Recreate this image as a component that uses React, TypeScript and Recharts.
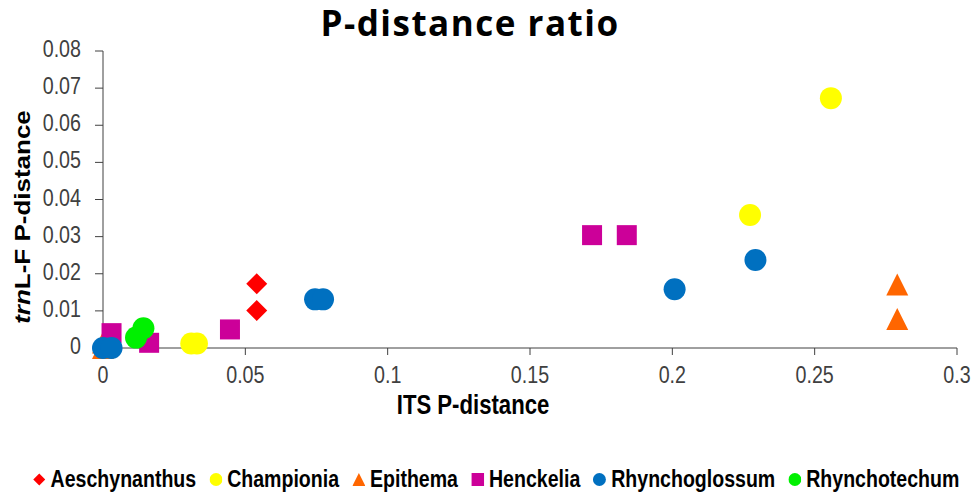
import React from "react";
import { ScatterChart, Scatter, XAxis, YAxis, Label } from "recharts";

const seriesNames = ["Aeschynanthus", "Championia", "Epithema", "Henckelia", "Rhynchoglossum", "Rhynchotechum"];
const seriesColors = ["#FF0000", "#FFFF00", "#FF6600", "#CC0099", "#0070C0", "#00F000"];
const seriesShapes = ["diamond", "circle", "triangle", "square", "circle", "circle"];

const aeschynanthus = [
  { x: 0.054, y: 0.0173 },
  { x: 0.054, y: 0.0101 },
];
const championia = [
  { x: 0.2557, y: 0.0673 },
  { x: 0.2273, y: 0.0358 },
  { x: 0.031, y: 0.0012 },
  { x: 0.033, y: 0.0012 },
];
const epithema = [
  { x: 0.279, y: 0.0171 },
  { x: 0.279, y: 0.0078 },
  { x: 0, y: 0.0015 },
  { x: 0, y: 0 },
];
const henckelia = [
  { x: 0.1718, y: 0.0304 },
  { x: 0.184, y: 0.0304 },
  { x: 0.0446, y: 0.005 },
  { x: 0.0162, y: 0.0014 },
  { x: 0.003, y: 0.004 },
];
const rhynchoglossum = [
  { x: 0.2292, y: 0.0237 },
  { x: 0.2008, y: 0.0158 },
  { x: 0.0745, y: 0.0131 },
  { x: 0.0773, y: 0.0131 },
  { x: 0, y: 0 },
  { x: 0.003, y: 0 },
];
const rhynchotechum = [
  { x: 0.0142, y: 0.0053 },
  { x: 0.0116, y: 0.0028 },
];
const seriesData = [aeschynanthus, championia, epithema, henckelia, rhynchoglossum, rhynchotechum];

const xTicks = [0, 0.05, 0.1, 0.15, 0.2, 0.25, 0.3];
const yTicks = [0, 0.01, 0.02, 0.03, 0.04, 0.05, 0.06, 0.07, 0.08];

const AXIS = "#404040";
const FONT = "'Liberation Sans', Arial, sans-serif";
const SQUEEZE = 0.82;
const LEG_SQ = 0.85;

function drawMarker(kind: string, color: string, cx: number, cy: number, s: number) {
  const h = s / 2;
  if (kind === "circle") return <circle cx={cx} cy={cy} r={h} fill={color} />;
  if (kind === "square") return <rect x={cx - h} y={cy - h} width={s} height={s} fill={color} />;
  if (kind === "diamond")
    return <polygon points={`${cx},${cy - h} ${cx + h},${cy} ${cx},${cy + h} ${cx - h},${cy}`} fill={color} />;
  return <polygon points={`${cx},${cy - h} ${cx + h},${cy + h} ${cx - h},${cy + h}`} fill={color} />;
}

const markerSize: Record<string, number> = { circle: 22, square: 20, diamond: 21, triangle: 22 };

function makeShape(kind: string, color: string) {
  return (props: any) => {
    const { cx, cy } = props;
    if (cx == null || cy == null) return <g />;
    return drawMarker(kind, color, cx, cy, markerSize[kind]);
  };
}

const XTick = (props: any) => {
  const { x, y, payload } = props;
  return (
    <text
      transform={`translate(${x},${y}) scale(${SQUEEZE},1)`}
      x={0}
      y={0}
      dy="0.71em"
      textAnchor="middle"
      fill={AXIS}
      fontSize={24}
      fontFamily={FONT}
    >
      {String(payload.value)}
    </text>
  );
};

const YTick = (props: any) => {
  const { x, y, payload } = props;
  return (
    <text
      transform={`translate(${x},${y + 6}) scale(${SQUEEZE},1)`}
      x={0}
      y={0}
      textAnchor="end"
      fill={AXIS}
      fontSize={24}
      fontFamily={FONT}
    >
      {String(payload.value)}
    </text>
  );
};

const YTitle = () => (
  <text
    transform="translate(22,217) scale(0.85,1) rotate(-90)"
    x={0}
    y={0}
    textAnchor="middle"
    dominantBaseline="central"
    fontSize={26}
    fontWeight="bold"
    fill="#000"
    fontFamily={FONT}
  >
    <tspan fontStyle="italic">trn</tspan>
    <tspan>L-F P-distance</tspan>
  </text>
);

export default function App() {
  return (
    <div style={{ position: "absolute", left: 0, top: 0, width: 976, height: 493, background: "#fff", overflow: "hidden" }}>
      <div
        style={{
          position: "absolute",
          left: 0,
          top: 0,
          width: 940,
          textAlign: "center",
          fontFamily: "'Open Sans', Lato, sans-serif",
          fontWeight: 700,
          fontSize: 35,
          letterSpacing: 1.5,
          lineHeight: "46px",
          color: "#000",
        }}
      >
        P-distance ratio
      </div>
      <ScatterChart width={976} height={493} margin={{ top: 51, right: 19, left: 23, bottom: 105 }}>
        <XAxis
          type="number"
          dataKey="x"
          domain={[0, 0.3]}
          ticks={xTicks}
          interval={0}
          tickSize={7}
          tickMargin={11}
          height={40}
          stroke={AXIS}
          tickLine={{ stroke: AXIS }}
          axisLine={{ stroke: AXIS }}
          tick={<XTick />}
        />
        <YAxis
          type="number"
          dataKey="y"
          domain={[0, 0.08]}
          ticks={yTicks}
          interval={0}
          tickSize={8}
          tickMargin={14}
          width={80}
          stroke={AXIS}
          tickLine={{ stroke: AXIS }}
          axisLine={{ stroke: AXIS }}
          tick={<YTick />}
        >
          <Label content={<YTitle />} />
        </YAxis>
        {seriesNames.map((name, i) => (
          <Scatter
            key={name}
            name={name}
            data={seriesData[i]}
            fill={seriesColors[i]}
            shape={makeShape(seriesShapes[i], seriesColors[i])}
            isAnimationActive={false}
          />
        ))}
      </ScatterChart>
      <div
        style={{
          position: "absolute",
          left: 0,
          top: 392,
          width: 946,
          textAlign: "center",
          fontFamily: FONT,
          fontWeight: 700,
          fontSize: 27,
          color: "#000",
          lineHeight: "26px",
        }}
      >
        <span style={{ display: "inline-block", transform: `scaleX(${SQUEEZE})` }}>ITS P-distance</span>
      </div>
      <div
        style={{
          position: "absolute",
          left: 495.5 - 700,
          top: 466,
          width: 1400,
          display: "flex",
          justifyContent: "center",
          alignItems: "center",
          fontFamily: FONT,
          fontWeight: 700,
          fontSize: 23,
          color: "#000",
          lineHeight: "26px",
          transform: `scaleX(${LEG_SQ})`,
          transformOrigin: "50% 50%",
        }}
      >
        {seriesNames.map((name, i) => (
          <div
            key={name}
            style={{ display: "flex", alignItems: "center", marginRight: i < seriesNames.length - 1 ? 13 / LEG_SQ : 0 }}
          >
            <svg width={13 / LEG_SQ} height={13} style={{ marginRight: 5 / LEG_SQ }}>
              <g transform={`scale(${1 / LEG_SQ},1)`}>
                {drawMarker(seriesShapes[i], seriesColors[i], 6.5, 6.5, seriesShapes[i] === "diamond" ? 12 : 13)}
              </g>
            </svg>
            <span>{name}</span>
          </div>
        ))}
      </div>
    </div>
  );
}
